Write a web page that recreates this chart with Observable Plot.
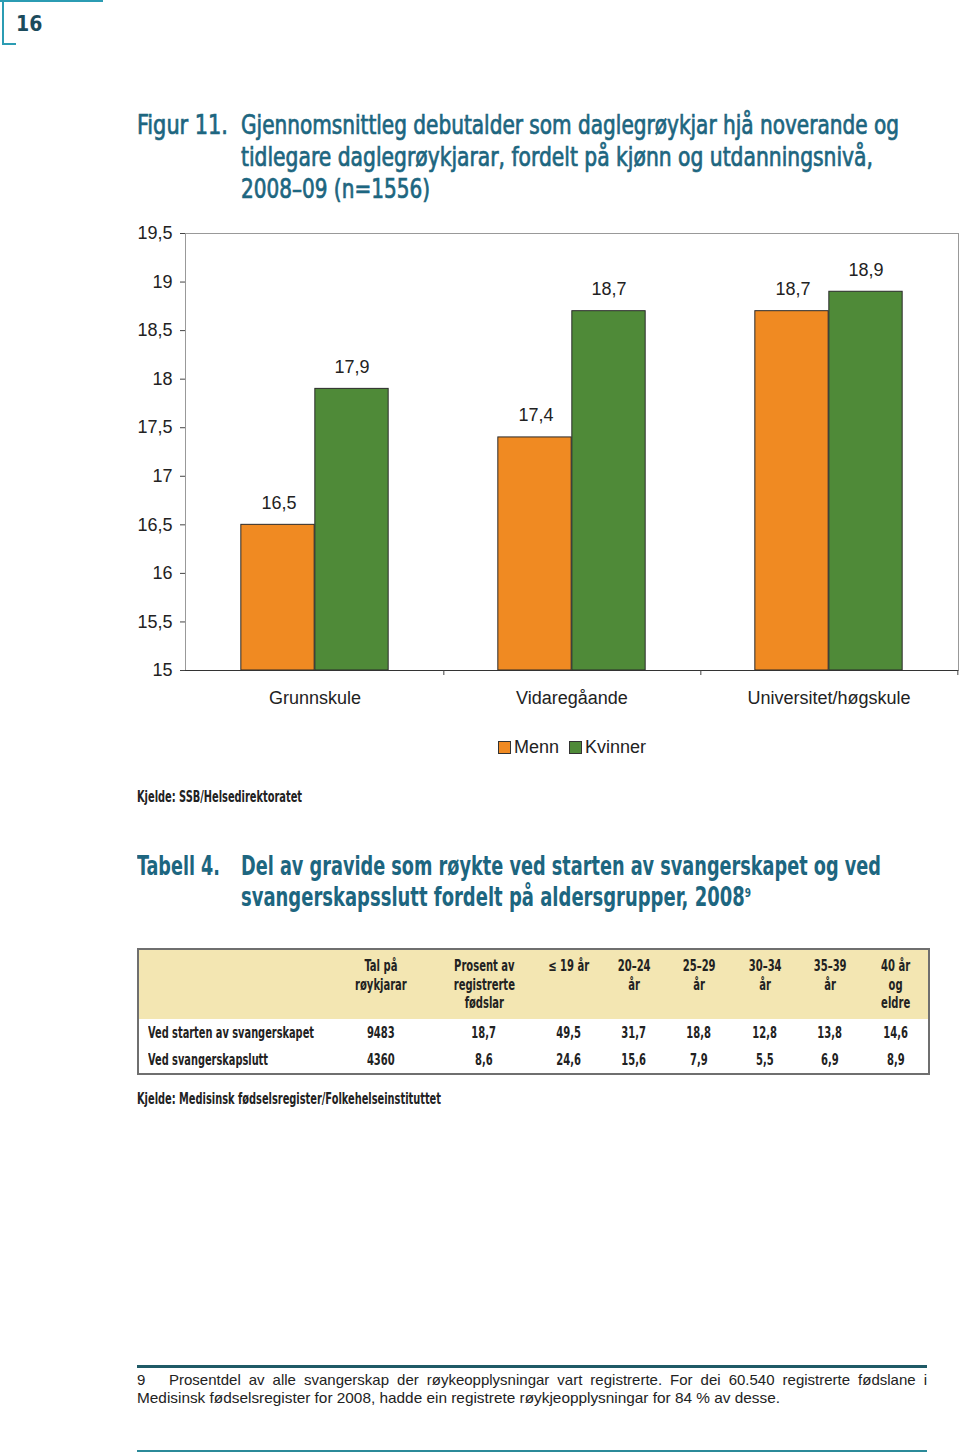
<!DOCTYPE html>
<html>
<head>
<meta charset="utf-8">
<script src="https://cdn.jsdelivr.net/npm/d3@7"></script>
<script src="https://cdn.jsdelivr.net/npm/@observablehq/plot@0.6"></script>
<style>
  html, body { margin: 0; padding: 0; background: #fff; }
  body { width: 960px; height: 1455px; position: relative; overflow: hidden; font-family: "Liberation Sans", Arial, sans-serif; color: #222; }
  .abs { position: absolute; }
  .cond { font-family: "Liberation Sans Narrow", "DejaVu Sans Condensed", "Roboto Condensed", "Liberation Sans", sans-serif; }
  .title { color: #1d6680; font-size: 26px; line-height: 32px; white-space: nowrap; }
  .title .line { display: block; height: 32px; }
  .title .fit { display: inline-block; transform-origin: 0 50%; }
  .kjelde { font-size: 15px; font-weight: bold; color: #222; white-space: nowrap; }
  table { border-collapse: collapse; table-layout: fixed; }
  td { padding: 0; font-size: 15px; font-weight: bold; text-align: center; color: #222; }
  td .sq { display: inline-block; transform: scaleX(0.74); transform-origin: 50% 50%; white-space: nowrap; }
  .foot { font-size: 15px; color: #222; white-space: nowrap; }
</style>
</head>
<body>
<!-- page number frame -->
<div class="abs" style="left:0;top:0;width:103px;height:2px;background:#2b9cb3"></div>
<div class="abs" style="left:2px;top:0;width:2px;height:45px;background:#2b9cb3"></div>
<div class="abs" style="left:2px;top:43px;width:14px;height:2px;background:#2b9cb3"></div>
<div class="abs cond" style="left:16px;top:11px;font-size:21px;font-weight:bold;color:#1b4b5c;line-height:26px">16</div>

<!-- figure title -->
<div class="abs title cond" id="figTitle" style="left:137px;top:109px;font-weight:normal;-webkit-text-stroke:0.7px #1d6680">
  <span class="fit" data-w="91" style="position:absolute;left:0;top:0">Figur 11.</span>
  <div style="position:absolute;left:104px;top:0">
    <span class="line"><span class="fit" data-w="658">Gjennomsnittleg debutalder som daglegrøykjar hjå noverande og</span></span>
    <span class="line"><span class="fit" data-w="632">tidlegare daglegrøykjarar, fordelt på kjønn og utdanningsnivå,</span></span>
    <span class="line"><span class="fit" data-w="189">2008–09 (n=1556)</span></span>
  </div>
</div>

<div class="abs" id="chart" style="left:125px;top:215px"></div>

<!-- legend -->
<div class="abs" style="left:498px;top:736px;font-size:18px;line-height:22px;white-space:nowrap;color:#222">
  <span style="display:inline-block;width:11px;height:11px;background:#F08A22;border:1px solid #333;vertical-align:-1px"></span><span style="margin-left:3px">Menn</span>
  <span style="display:inline-block;width:11px;height:11px;background:#4F8A38;border:1px solid #333;vertical-align:-1px;margin-left:5px"></span><span style="margin-left:3px">Kvinner</span>
</div>

<div class="abs kjelde cond" style="left:137px;top:788px"><span class="fit" data-w="165" style="display:inline-block;transform-origin:0 50%">Kjelde: SSB/Helsedirektoratet</span></div>

<!-- table title -->
<div class="abs title cond" style="left:137px;top:851px;line-height:31px;font-weight:bold">
  <span class="fit" data-w="83" style="position:absolute;left:0;top:0">Tabell 4.</span>
  <div style="position:absolute;left:104px;top:0">
    <span class="line" style="height:31px"><span class="fit" data-w="640">Del av gravide som røykte ved starten av svangerskapet og ved</span></span>
    <span class="line" style="height:31px"><span class="fit" data-w="510">svangerskapsslutt fordelt på aldersgrupper, 2008<sup style="font-size:13px;vertical-align:9px;line-height:0">9</sup></span></span>
  </div>
</div>

<div class="abs" id="tbl" style="left:137px;top:948px"></div>

<div class="abs kjelde cond" style="left:137px;top:1090px"><span class="fit" data-w="304" style="display:inline-block;transform-origin:0 50%">Kjelde: Medisinsk fødselsregister/Folkehelseinstituttet</span></div>

<!-- footnote -->
<div class="abs" style="left:137px;top:1365px;width:790px;height:3px;background:#1f5a66"></div>
<div class="abs foot" style="left:137px;top:1371px;line-height:18px">9</div>
<div class="abs foot" style="left:169px;top:1371px;width:758px;line-height:18px;text-align:justify;text-align-last:justify;white-space:normal">Prosentdel av alle svangerskap der røykeopplysningar vart registrerte. For dei 60.540 registrerte fødslane i</div>
<div class="abs foot" style="left:137px;top:1389px;line-height:18px"><span class="fit" data-w="643" style="display:inline-block;transform-origin:0 50%">Medisinsk fødselsregister for 2008, hadde ein registrete røykjeopplysningar for 84 % av desse.</span></div>
<div class="abs" style="left:137px;top:1450px;width:790px;height:2px;background:#2b8a99"></div>

<script>
// ---------- chart data ----------
const categories = ["Grunnskule", "Vidaregåande", "Universitet/høgskule"];
const series = ["Menn", "Kvinner"];
const menn = [16.5, 17.4, 18.7];
const kvinner = [17.9, 18.7, 18.9];
const yTicks = [15, 15.5, 16, 16.5, 17, 17.5, 18, 18.5, 19, 19.5];
const seriesColors = ["#F08A22", "#4F8A38"];

// ---------- table data ----------
const tableHeader = ["", "Tal på<br>røykjarar", "Prosent av<br>registrerte<br>fødslar", "≤ 19 år", "20–24<br>år", "25–29<br>år", "30–34<br>år", "35–39<br>år", "40 år<br>og<br>eldre"];
const rowLabels = ["Ved starten av svangerskapet", "Ved svangerskapslutt"];
const rowStart = ["9483", "18,7", "49,5", "31,7", "18,8", "12,8", "13,8", "14,6"];
const rowEnd = ["4360", "8,6", "24,6", "15,6", "7,9", "5,5", "6,9", "8,9"];

const fmt = v => String(v).replace(".", ",");
const mennData = categories.map((c, i) => ({cat: c, sex: series[0], value: menn[i]}));
const kvinnerData = categories.map((c, i) => ({cat: c, sex: series[1], value: kvinner[i]}));

const W = 835, H = 500, ML = 60, MR = 2, MT = 18, MB = 45;
const bw = (W - ML - MR) / categories.length;
const barW = 74;
const base = yTicks[0];

const chart = Plot.plot({
  width: W, height: H,
  marginLeft: ML, marginRight: MR, marginTop: MT, marginBottom: MB,
  style: {fontFamily: "'Liberation Sans', Arial, sans-serif", fontSize: "17px", color: "#222", background: "transparent", overflow: "visible"},
  x: {domain: categories, paddingInner: 0, paddingOuter: 0, label: null},
  y: {domain: [yTicks[0], yTicks[yTicks.length - 1]], label: null},
  color: {domain: series, range: seriesColors},
  marks: [
    Plot.frame({stroke: "#999"}),
    Plot.barY(mennData, {x: "cat", y1: () => base, y2: "value", fill: "sex", stroke: "#2a2a2a", strokeWidth: 1, insetLeft: bw / 2 - barW, insetRight: bw / 2}),
    Plot.barY(kvinnerData, {x: "cat", y1: () => base, y2: "value", fill: "sex", stroke: "#2a2a2a", strokeWidth: 1, insetLeft: bw / 2, insetRight: bw / 2 - barW}),
    Plot.text(mennData, {x: "cat", y: "value", text: d => fmt(d.value), dx: -barW / 2 + 1, dy: -22, fontSize: 18, fill: "#222"}),
    Plot.text(kvinnerData, {x: "cat", y: "value", text: d => fmt(d.value), dx: barW / 2, dy: -22, fontSize: 18, fill: "#222"}),
    Plot.ruleY([base], {stroke: "#333"}),
    Plot.axisY({ticks: yTicks, tickFormat: fmt, tickSize: 5, tickPadding: 8, fontSize: 18, stroke: "#444"}),
    Plot.axisX({ticks: categories, text: null, tickSize: 5, dx: bw / 2, stroke: "#444"}),
    Plot.axisX({ticks: categories, tickSize: 0, tickPadding: 21, fontSize: 18})
  ]
});
document.getElementById("chart").appendChild(chart);

// ---------- table ----------
const colW = [191, 104, 102, 68, 62, 68, 64, 66, 66];
let html = '<table style="width:791px;border:2px solid #6f6f6f;box-sizing:border-box" class="cond"><colgroup>' +
  colW.map(w => `<col style="width:${w}px">`).join("") + '</colgroup>';
html += '<tr style="background:#f3e6b2;height:70px">' + tableHeader.map(h => `<td style="vertical-align:top;padding-top:7px;line-height:18.5px"><span class="sq">${h}</span></td>`).join("") + '</tr>';
[[rowLabels[0], rowStart], [rowLabels[1], rowEnd]].forEach(([lab, vals], r) => {
  html += `<tr style="height:27.5px"><td style="text-align:left;padding-left:9px;white-space:nowrap"><span class="fit" data-w="${r === 0 ? 166 : 120}" style="display:inline-block;transform-origin:0 50%">${lab}</span></td>` +
    vals.map(v => `<td><span class="sq">${v}</span></td>`).join("") + '</tr>';
});
html += '</table>';
document.getElementById("tbl").innerHTML = html;

// ---------- fit text widths ----------
function fitAll() {
  document.querySelectorAll(".fit").forEach(el => {
    el.style.display = "inline-block";
    el.style.transform = "none";
    const w = el.getBoundingClientRect().width;
    const target = +el.dataset.w;
    if (w > 0) el.style.transform = `scaleX(${target / w})`;
  });
}
fitAll();
if (document.fonts && document.fonts.ready) document.fonts.ready.then(fitAll);
</script>
</body>
</html>
